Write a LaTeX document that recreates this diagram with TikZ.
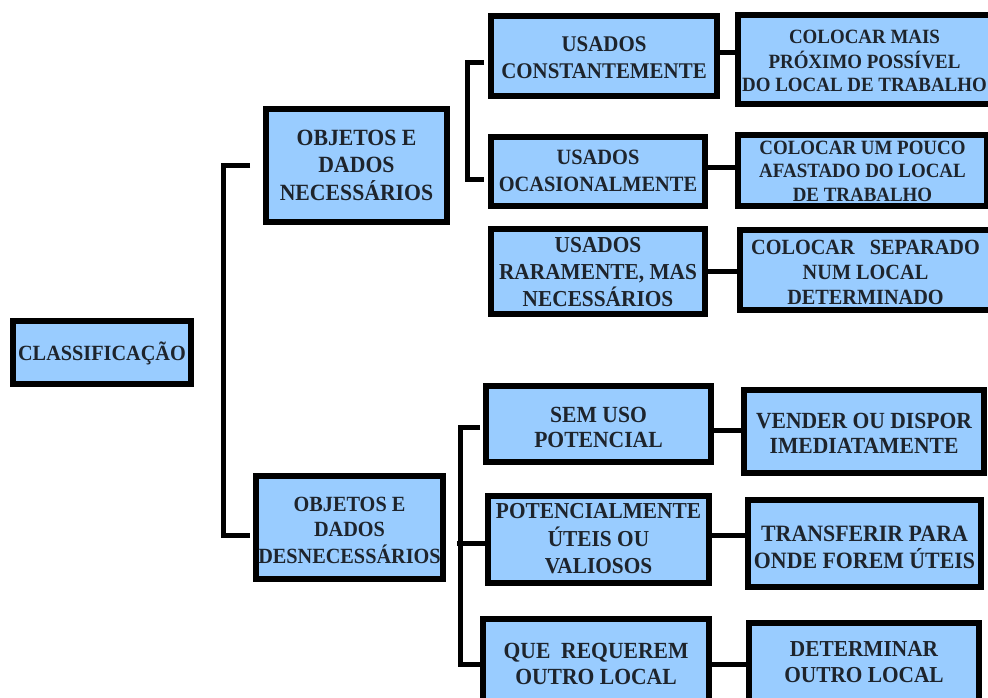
\documentclass[tikz,border=0pt]{standalone}
\usepackage{fontspec}
\usepackage{graphicx}
\setmainfont{Liberation Serif}
\definecolor{boxblue}{RGB}{153,204,255}
\definecolor{inkdark}{RGB}{30,36,44}
\tikzset{
  box/.style={draw=black, fill=boxblue, line width=4.5pt, inner sep=0pt, align=center, text=inkdark},
  fs/.style 2 args={font=\bfseries\fontsize{#1}{#2}\selectfont},
  conn/.style={draw=black, line width=3.75pt, line join=miter}
}
\newcommand{\bxtext}[2]{\raisebox{#1pt}[\height][\depth]{\scalebox{1}[1.07]{\begin{tabular}{@{}c@{}}#2\end{tabular}}}}
% name, style, x1, y1, x2, y2, text, downward text shift (px)
\newcommand{\pbox}[8]{%
  \pgfmathsetmacro{\bxcx}{(#3+#5)/2}%
  \pgfmathsetmacro{\bxcy}{(#4+#6)/2}%
  \pgfmathsetmacro{\bxw}{(#5-#3-6)*0.75}%
  \pgfmathsetmacro{\bxh}{(#6-#4-6)*0.75}%
  \pgfmathsetmacro{\bxr}{-#8*0.75}%
  \node[box,#2,minimum width=\bxw pt,minimum height=\bxh pt] (#1) at (\bxcx,\bxcy) {\bxtext{\bxr}{#7}};}
\begin{document}
\begin{tikzpicture}[x=0.75pt,y=-0.75pt]
\useasboundingbox (0,0) rectangle (988,698);
\clip (0,0) rectangle (988,698);
\fill[white] (0,0) rectangle (988,698);
% level 0 and 1
\pbox{cls}{fs={15.2}{17}}{10}{318}{194}{387}{CLASSIFICAÇÃO}{2}
\pbox{nec}{fs={16.3}{18.7}}{263}{106}{450}{225}{OBJETOS E\\DADOS\\NECESSÁRIOS}{2}
\pbox{des}{fs={15.2}{17.5}}{253}{473}{446}{582}{OBJETOS E\\DADOS\\DESNECESSÁRIOS}{5}
% level 2, upper
\pbox{uc}{fs={15.7}{18.7}}{488}{13}{720}{99}{USADOS\\CONSTANTEMENTE}{4}
\pbox{uo}{fs={15.3}{18.7}}{488}{134}{708}{209}{USADOS\\OCASIONALMENTE}{1}
\pbox{ur}{fs={16}{18.7}}{488}{226}{708}{317}{USADOS\\RARAMENTE, MAS\\NECESSÁRIOS}{3}
% level 3, upper
\pbox{c1}{fs={14.2}{16.6}}{735}{12}{994}{107}{COLOCAR MAIS\\PRÓXIMO POSSÍVEL\\DO LOCAL DE TRABALHO}{3.5}
\pbox{c2}{fs={14.2}{16.4}}{735}{132}{990}{209}{COLOCAR UM POUCO\\AFASTADO DO LOCAL\\DE TRABALHO}{2.5}
\pbox{c3}{fs={15.2}{17.5}}{737}{227}{994}{313}{COLOCAR~~~SEPARADO\\NUM LOCAL\\DETERMINADO}{4.5}
% level 2, lower
\pbox{su}{fs={16.2}{17.5}}{483}{383}{714}{465}{SEM USO\\POTENCIAL}{6}
\pbox{pu}{fs={16}{19.25}}{485}{493}{712}{586}{POTENCIALMENTE\\ÚTEIS OU\\VALIOSOS}{1}
\pbox{qr}{fs={16.2}{18.2}}{480}{616}{712}{712}{QUE~~REQUEREM\\OUTRO LOCAL}{2}
% level 3, lower
\pbox{v}{fs={16.2}{17.5}}{741}{387}{987}{476}{VENDER OU DISPOR\\IMEDIATAMENTE}{4.5}
\pbox{t}{fs={16.4}{15.7}}{745}{497}{984}{590}{TRANSFERIR PARA\\ONDE FOREM ÚTEIS}{7}
\pbox{d}{fs={16}{18.7}}{746}{620}{982}{708}{DETERMINAR\\OUTRO LOCAL}{0}
% brackets
\coordinate (m1) at (250,166);
\coordinate (m2) at (250,535);
\draw[conn] (m1) -- ++(-27,0) |- (m2);
\coordinate (n1) at (484,63);
\coordinate (n2) at (484,180);
\draw[conn] (n1) -- ++(-17,0) |- (n2);
\coordinate (k1) at (480,427);
\coordinate (k2) at (480,664);
\draw[conn] (k1) -- ++(-20,0) |- (k2);
\draw[conn] (pu.west |- 0,543) -- ++(-28,0);
% pair connectors
\draw[conn] (uc.east |- 0,53) -- (c1.west |- 0,53);
\draw[conn] (uo.east |- 0,168) -- (c2.west |- 0,168);
\draw[conn] (ur.east |- 0,272) -- (c3.west |- 0,272);
\draw[conn] (su.east |- 0,430) -- (v.west |- 0,430);
\draw[conn] (pu.east |- 0,535) -- (t.west |- 0,535);
\draw[conn] (qr.east |- 0,664) -- (d.west |- 0,664);
\end{tikzpicture}
\end{document}
